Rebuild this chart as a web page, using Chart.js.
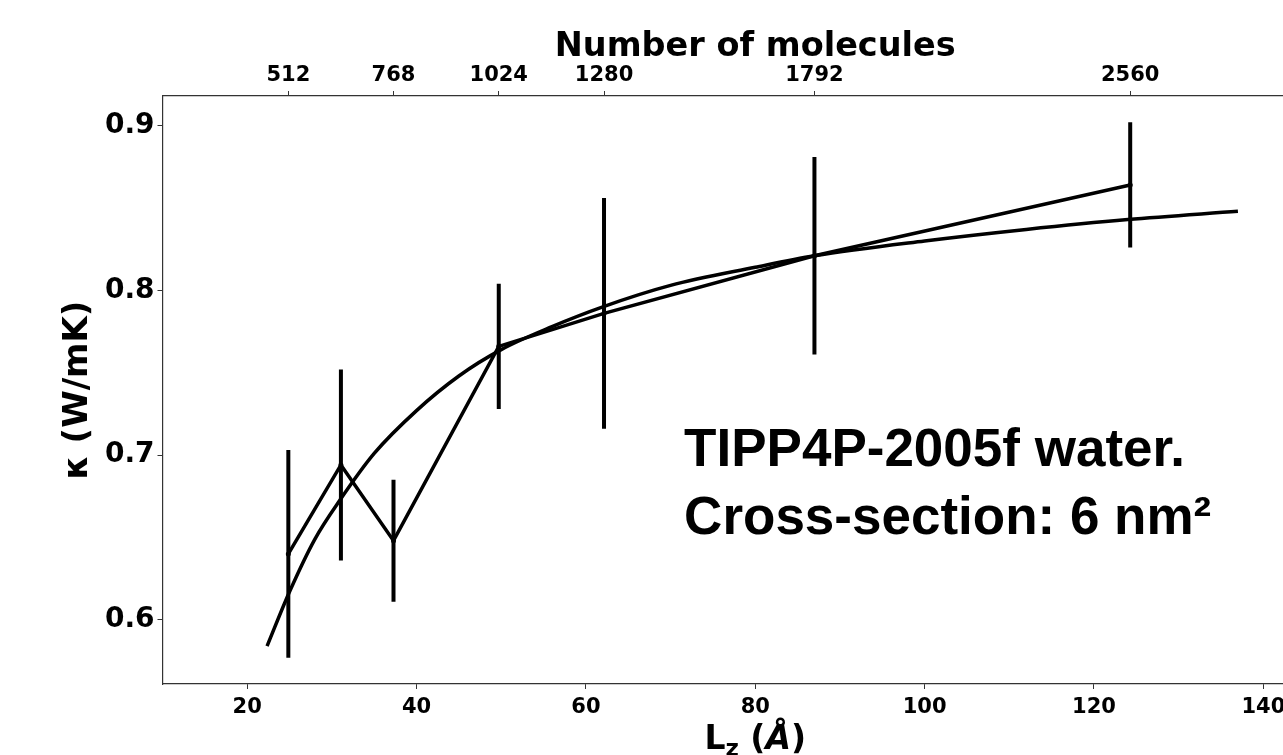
<!DOCTYPE html>
<html>
<head>
<meta charset="utf-8">
<script src="https://cdn.jsdelivr.net/npm/chart.js@4.4.1/dist/chart.umd.min.js"></script>
<style>
  html, body { margin: 0; padding: 0; background: #fff; overflow: hidden; }
  #wrap { position: absolute; left: 0; top: 0; width: 1400px; height: 770px; }
</style>
</head>
<body>
<div id="wrap"><canvas id="c"></canvas></div>
<script>
// ---- data ----
const lz = [24.86, 31.07, 37.28, 49.71, 62.14, 86.99, 124.28];
const kappa = [0.640, 0.694, 0.648, 0.766, 0.786, 0.821, 0.864];
const kappaErr = [0.063, 0.058, 0.037, 0.038, 0.070, 0.060, 0.038];

const fitLz = [22.35, 25, 28, 31, 35, 40, 45, 50, 56, 62, 70, 80, 87, 100, 112, 124, 137];
const fitKappa = [0.584, 0.617, 0.649, 0.673, 0.701, 0.727, 0.748, 0.764, 0.778, 0.790, 0.803, 0.814, 0.821, 0.830, 0.837, 0.843, 0.848];

const lzTicks = [20, 40, 60, 80, 100, 120, 140];
const kappaTicks = [0.6, 0.7, 0.8, 0.9];
const moleculeTicks = [512, 768, 1024, 1280, 1792, 2560];
const moleculeLz = [24.86, 37.28, 49.71, 62.14, 86.99, 124.28];

const annotationLines = ['TIPP4P-2005f water.', 'Cross-section: 6 nm\u00B2'];
const annotationAnchor = { x: 71.6, y1: 0.6931, y2: 0.6519 };

// ---- build chart ----
const xTickFont = { family: 'DejaVu Sans', weight: 'bold', size: 21 };
const yTickFont = { family: 'DejaVu Sans', weight: 'bold', size: 28 };
const axisColor = '#333333';

const datasets = [];
datasets.push({
  label: 'fit',
  data: fitLz.map((x, i) => ({ x: x, y: fitKappa[i] })),
  showLine: true, pointRadius: 0, borderColor: '#000', borderWidth: 3.5,
  cubicInterpolationMode: 'monotone', fill: false
});
datasets.push({
  label: 'data',
  data: lz.map((x, i) => ({ x: x, y: kappa[i] })),
  showLine: true, pointRadius: 2.5, pointBackgroundColor: '#000', pointBorderColor: '#000',
  pointBorderWidth: 0, borderColor: '#000', borderWidth: 3.5, tension: 0, fill: false
});
lz.forEach((x, i) => {
  datasets.push({
    label: 'err' + i,
    data: [{ x: x, y: kappa[i] - kappaErr[i] }, { x: x, y: kappa[i] + kappaErr[i] }],
    showLine: true, pointRadius: 0, borderColor: '#000', borderWidth: 4,
    borderCapStyle: 'butt', fill: false
  });
});

const labelsPlugin = {
  id: 'labelsPlugin',
  afterDraw(chart) {
    const ctx = chart.ctx;
    const xs = chart.scales.x, ys = chart.scales.y;
    ctx.save();
    ctx.fillStyle = '#000';
    ctx.textBaseline = 'alphabetic';
    ctx.textAlign = 'left';
    // bottom axis label: L_z (Å)
    const parts = [
      { t: 'L', f: 'bold 33px "DejaVu Sans"', dy: 0 },
      { t: 'z', f: 'bold 23px "DejaVu Sans"', dy: 7 },
      { t: ' (', f: 'bold 33px "DejaVu Sans"', dy: 0 },
      { t: '\u00C5', f: 'italic bold 33px "DejaVu Sans"', dy: 0 },
      { t: ')', f: 'bold 33px "DejaVu Sans"', dy: 0 }
    ];
    let total = 0;
    parts.forEach(p => { ctx.font = p.f; p.w = ctx.measureText(p.t).width; total += p.w; });
    let cx = (chart.chartArea.left + chart.chartArea.right) / 2 - total / 2;
    const base = 749;
    parts.forEach(p => { ctx.font = p.f; ctx.fillText(p.t, cx, base + p.dy); cx += p.w; });
    // annotation
    ctx.font = 'bold 53px "Liberation Sans", Arial, sans-serif';
    const ax = xs.getPixelForValue(annotationAnchor.x);
    ctx.fillText(annotationLines[0], ax, ys.getPixelForValue(annotationAnchor.y1));
    ctx.fillText(annotationLines[1], ax, ys.getPixelForValue(annotationAnchor.y2));
    ctx.restore();
  }
};

new Chart(document.getElementById('c'), {
  type: 'scatter',
  data: { datasets: datasets },
  plugins: [labelsPlugin],
  options: {
    responsive: true,
    maintainAspectRatio: false,
    animation: false,
    events: [],
    layout: { padding: { left: 0, top: 0, right: 52, bottom: 0 } },
    plugins: { legend: { display: false }, tooltip: { enabled: false } },
    scales: {
      x: {
        type: 'linear', position: 'bottom', min: 10, max: 150,
        afterBuildTicks: s => { s.ticks = lzTicks.map(v => ({ value: v })); },
        afterFit: s => { s.height = 86; },
        ticks: { font: xTickFont, color: '#000', padding: 6, maxRotation: 0, autoSkip: false,
                 callback: v => String(v) },
        grid: { drawOnChartArea: false, drawTicks: true, tickLength: 5, color: axisColor, tickWidth: 1 },
        border: { display: true, color: axisColor, width: 1.2 }
      },
      x2: {
        type: 'linear', position: 'top', min: 10, max: 150,
        afterBuildTicks: s => { s.ticks = moleculeLz.map(v => ({ value: v })); },
        afterFit: s => { s.height = 96; },
        ticks: { font: xTickFont, color: '#000', padding: 3, maxRotation: 0, autoSkip: false,
                 callback: (v, i) => String(moleculeTicks[i]) },
        grid: { drawOnChartArea: false, drawTicks: true, tickLength: 5, color: axisColor, tickWidth: 1 },
        border: { display: true, color: axisColor, width: 1.2 },
        title: { display: true, text: 'Number of molecules', color: '#000',
                 font: { family: 'DejaVu Sans', weight: 'bold', size: 33.5 },
                 padding: { top: 27, bottom: 0 } }
      },
      y: {
        type: 'linear', position: 'left', min: 0.561, max: 0.918,
        afterBuildTicks: s => { s.ticks = kappaTicks.map(v => ({ value: v })); },
        afterFit: s => { s.width = 162.5; },
        ticks: { font: yTickFont, color: '#000', padding: 3, autoSkip: false,
                 callback: v => Number(v).toFixed(1) },
        grid: { drawOnChartArea: false, drawTicks: true, tickLength: 5, color: axisColor, tickWidth: 1 },
        border: { display: true, color: axisColor, width: 1.2 },
        title: { display: true, text: '\u03BA (W/mK)', color: '#000',
                 font: { family: 'DejaVu Sans', weight: 'bold', size: 34 },
                 padding: { top: 58, bottom: 0 } }
      }
    }
  }
});
</script>
</body>
</html>
